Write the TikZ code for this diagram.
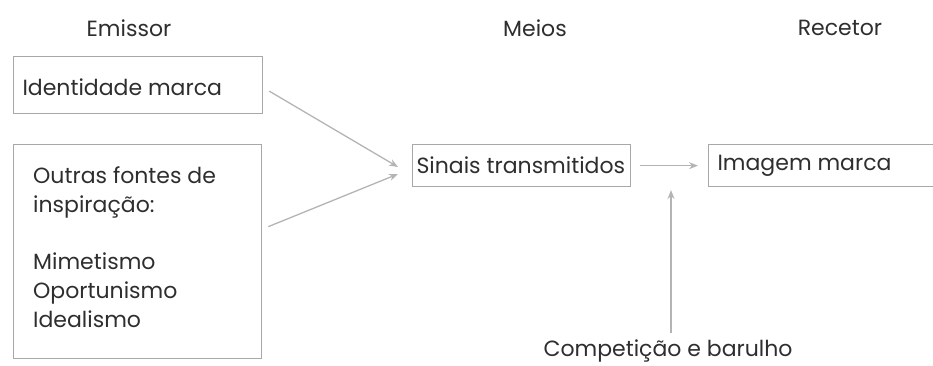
\documentclass[tikz,border=0pt]{standalone}
\usepackage{fontspec}
\setmainfont{Poppins}
\usetikzlibrary{arrows.meta}
\definecolor{ink}{HTML}{2E2E2E}
\definecolor{frame}{HTML}{A8A8A8}
\definecolor{wire}{HTML}{B4B4B4}
\begin{document}
\begin{tikzpicture}[x=1pt,y=-1pt,
  every node/.style={text=ink,font=\fontsize{22}{29}\selectfont},
  box/.style={draw=frame,line width=1.3pt,inner sep=0pt,anchor=north west},
  link/.style={draw=wire,line width=1.3pt,-{Stealth[length=9pt,width=7pt]}}]
\useasboundingbox (0,0) rectangle (933,365);
% column headings
\node (emissor) at (129,28) {Emissor};
\node (meios) at (535,28) {Meios};
\node (recetor) at (840,28) {Recetor};
% sender side
\node[box,minimum width=249pt,minimum height=57pt] (identidade) at (13,56) {};
\node[anchor=west] at (identidade.west) [xshift=6pt,yshift=-2pt] {Identidade marca};
\node[box,minimum width=248pt,minimum height=214pt] (outras) at (13,144) {};
\node[anchor=north west,align=left,inner sep=0pt] (outrastxt) at (33,166)
  {Outras fontes de\\inspiração:\\[28pt]Mimetismo\\Oportunismo\\Idealismo};
% channel and receiver
\node[box,minimum width=218pt,minimum height=42pt] (sinais) at (412,144) {};
\node[anchor=west] at (sinais.west) [xshift=1pt] {Sinais transmitidos};
\node[box,minimum width=232pt,minimum height=42pt] (imagem) at (708,144) {};
\node[anchor=west] at (imagem.west) [xshift=6pt] {Imagem marca};
\node (ruido) at (668,351) {Competição e barulho};
% connectors
\coordinate (in1) at (398,167);
\coordinate (in2) at (398,174);
\coordinate (up) at (671,190);
\draw[link] ([xshift=6pt,yshift=-6pt]identidade.east) -- (in1);
\draw[link] ([xshift=6pt,yshift=25pt]outras.east) -- (in2);
\draw[link] ([xshift=9pt]sinais.east) -- ([xshift=-10pt]imagem.west);
\draw[link] (671,333) -- (up);
\end{tikzpicture}
\end{document}
